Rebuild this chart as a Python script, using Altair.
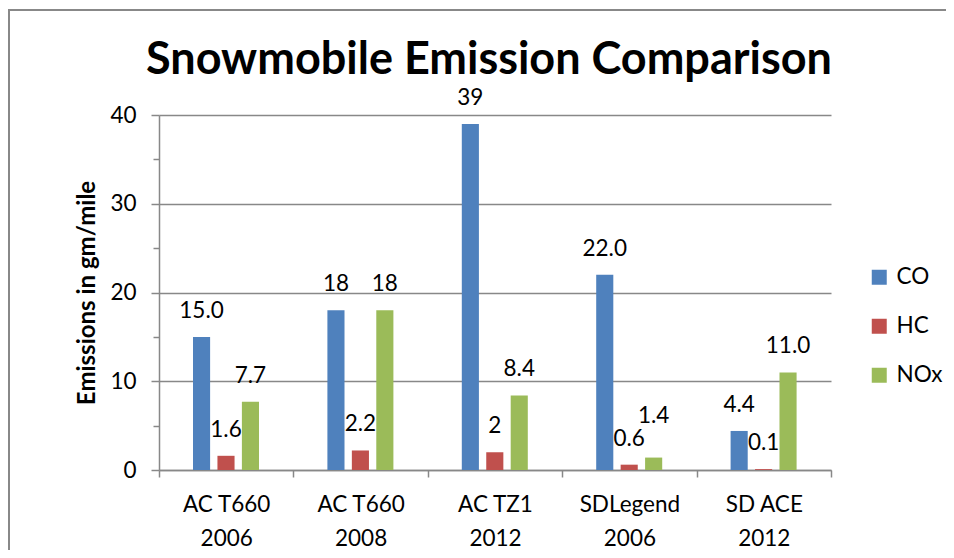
import altair as alt
import pandas as pd

models = ["AC T660", "AC T660", "AC TZ1", "SDLegend", "SD ACE"]
years = ["2006", "2008", "2012", "2006", "2012"]
series = ["CO", "HC", "NOx"]
co = [15.0, 18, 39, 22.0, 4.4]
hc = [1.6, 2.2, 2, 0.6, 0.1]
nox = [7.7, 18, 8.4, 1.4, 11.0]
co_labels = ["15.0", "18", "39", "22.0", "4.4"]
hc_labels = ["1.6", "2.2", "2", "0.6", "0.1"]
nox_labels = ["7.7", "18", "8.4", "1.4", "11.0"]
colors = ["#4F81BD", "#C0504D", "#9BBB59"]

cats = [m + "|" + y for m, y in zip(models, years)]
rows = []
for s, vals, labs in zip(series, [co, hc, nox], [co_labels, hc_labels, nox_labels]):
    for c, v, l in zip(cats, vals, labs):
        rows.append({"cat": c, "series": s, "value": v, "label": l})
df = pd.DataFrame(rows)

W, H = 672, 355
FONT = "Lato"
GRAY = "#888888"

x_enc = alt.X(
    "cat:N", sort=cats, title=None,
    scale=alt.Scale(paddingInner=0, paddingOuter=0),
    axis=alt.Axis(
        labelExpr="split(datum.label, '|')", labelAngle=0,
        labelFont=FONT, labelFontSize=22.5, labelLineHeight=34, labelColor="black",
        tickBand="extent", tickSize=7, tickColor=GRAY, tickWidth=1.5,
        domainColor=GRAY, domainWidth=1.5, labelPadding=16, grid=False,
    ),
)
xoff = alt.XOffset("series:N", sort=series,
                   scale=alt.Scale(paddingInner=0.3, paddingOuter=0, range=[34, 100]))

y_enc = alt.Y(
    "value:Q", title="Emissions in gm/mile",
    scale=alt.Scale(domain=[0, 40], nice=False),
    axis=alt.Axis(
        values=list(range(0, 41, 5)),
        labelExpr="datum.value % 10 === 0 ? datum.label : ''",
        labelFont=FONT, labelFontSize=22.5, labelColor="black", labelPadding=15,
        tickColor=GRAY, tickWidth=1.5,
        tickSize={"condition": {"test": "datum.value % 10 === 0", "value": 8}, "value": 6},
        grid=True, gridColor=GRAY, gridWidth=1.5,
        gridOpacity={"condition": {"test": "datum.value % 10 === 0", "value": 1}, "value": 0},
        domainColor=GRAY, domainWidth=1.5,
        titleFont=FONT, titleFontSize=24, titleFontWeight="bold", titleColor="black",
        titleX=-72, titleBaseline="middle",
    ),
)

bars = alt.Chart(df).mark_bar().encode(
    x=x_enc, xOffset=xoff, y=y_enc,
    color=alt.Color(
        "series:N", sort=series,
        scale=alt.Scale(domain=series, range=colors),
        legend=alt.Legend(
            title=None, orient="none", legendX=709, legendY=151,
            symbolType="square", symbolSize=225, symbolStrokeWidth=0,
            labelFont=FONT, labelFontSize=22.5, labelColor="black",
            rowPadding=26, labelOffset=6,
        ),
    ),
)

is_raised = "datum.series === 'NOx' && datum.label === '1.4'"
texts = alt.Chart(df).transform_filter("!(" + is_raised + ")").mark_text(
    font=FONT, fontSize=22.5, color="black", baseline="alphabetic", dy=-19
).encode(x=x_enc, xOffset=xoff, y=y_enc, text="label:N")
texts_raised = alt.Chart(df).transform_filter(is_raised).mark_text(
    font=FONT, fontSize=22.5, color="black", baseline="alphabetic", dy=-35
).encode(x=x_enc, xOffset=xoff, y=y_enc, text="label:N")

frame_data = alt.Data(values=[{"k": 1}])
frame = alt.Chart(frame_data).mark_rect(
    fill=None, fillOpacity=0, stroke=GRAY, strokeWidth=2
).encode(
    x=alt.value(-150), x2=alt.value(W + 140),
    y=alt.value(-105), y2=alt.value(H + 120),
)

chart = alt.layer(frame, bars, texts, texts_raised).properties(
    width=W, height=H,
    autosize=alt.AutoSizeParams(type="none"),
    padding={"left": 151, "top": 107, "right": 115, "bottom": 80},
    title=alt.TitleParams(
        "Snowmobile Emission Comparison", font=FONT, fontSize=45,
        fontWeight="bold", color="black", anchor="middle", frame="group",
        baseline="alphabetic", offset=0, dx=-6, dy=110,
    ),
).configure_view(stroke=None)

chart.save("out.html", embed_options={"renderer": "svg", "actions": False})
